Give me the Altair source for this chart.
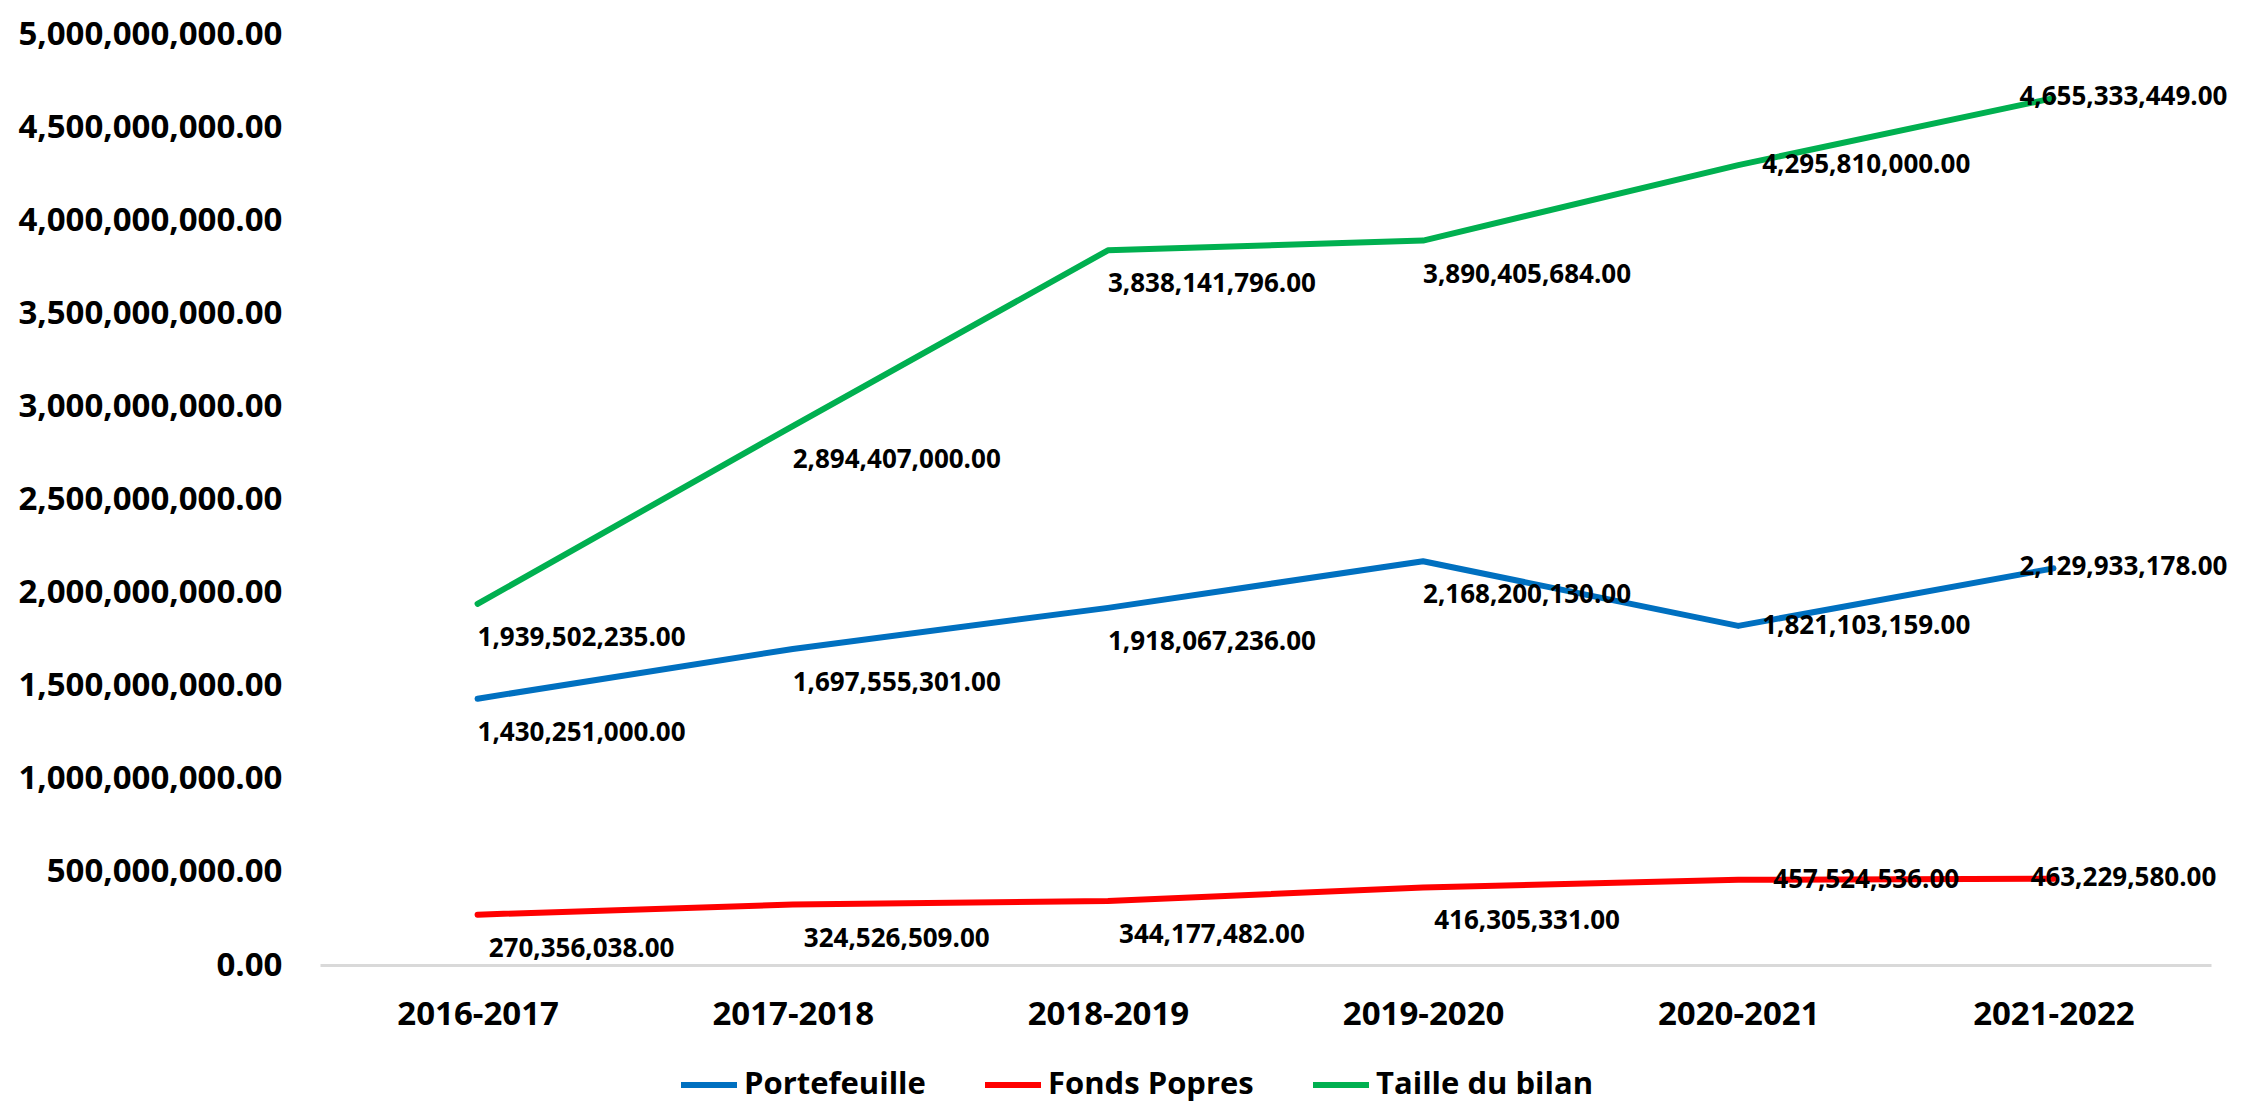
import altair as alt
import pandas as pd

# ---- data ----
years = ["2016-2017", "2017-2018", "2018-2019", "2019-2020", "2020-2021", "2021-2022"]
portefeuille = [1430251000, 1697555301, 1918067236, 2168200130, 1821103159, 2129933178]
fonds_popres = [270356038, 324526509, 344177482, 416305331, 457524536, 463229580]
taille_bilan = [1939502235, 2894407000, 3838141796, 3890405684, 4295810000, 4655333449]
series_names = ["Portefeuille", "Fonds Popres", "Taille du bilan"]
series_colors = ["#0070C0", "#FF0000", "#00B050"]
y_ticks = [0, 500000000, 1000000000, 1500000000, 2000000000, 2500000000,
           3000000000, 3500000000, 4000000000, 4500000000, 5000000000]

rows = []
for name, vals in zip(series_names, [portefeuille, fonds_popres, taille_bilan]):
    for yr, v in zip(years, vals):
        rows.append({"year": yr, "value": v, "series": name})
df = pd.DataFrame(rows)

FONT = "Open Sans"

x_enc = alt.X(
    "year:N", sort=years, title=None,
    scale=alt.Scale(type="point", padding=0.5),
    axis=alt.Axis(labelAngle=0, ticks=False, domainColor="#D9D9D9", domainWidth=3,
                  labelFont=FONT, labelFontSize=33, labelFontWeight="bold",
                  labelColor="#000000", labelPadding=33, grid=False, labelLimit=400),
)
y_enc = alt.Y(
    "value:Q", title=None,
    scale=alt.Scale(domain=[0, 5000000000], nice=False, zero=True),
    axis=alt.Axis(values=y_ticks, format=",.2f", domain=False, ticks=False, grid=False,
                  labelFont=FONT, labelFontSize=33, labelFontWeight="bold",
                  labelColor="#000000", labelPadding=38, labelLimit=400),
)

base = alt.Chart(df).encode(x=x_enc, y=y_enc)

lines = base.mark_line(strokeWidth=6, strokeCap="round", strokeJoin="round").encode(
    color=alt.Color(
        "series:N", sort=series_names,
        scale=alt.Scale(domain=series_names, range=series_colors),
        legend=alt.Legend(
            title=None, orient="none", legendX=358, legendY=1020,
            direction="horizontal", columns=3, symbolType="stroke",
            symbolSize=3136, symbolStrokeWidth=6, labelFont=FONT, labelFontSize=31,
            labelFontWeight="bold", labelColor="#000000", labelOffset=4,
            columnPadding=47, labelLimit=500, padding=0,
        ),
    )
)

def labels(cats, dx, dy):
    return base.mark_text(
        dx=dx, dy=dy, font=FONT, fontSize=26, fontWeight="bold", color="#000000"
    ).encode(
        text=alt.Text("value:Q", format=",.2f")
    ).transform_filter(alt.FieldOneOfPredicate(field="year", oneOf=cats))

chart = alt.layer(
    lines,
    labels(years[:4], 104, 34),
    labels([years[4]], 128, 0),
    labels([years[5]], 70, -1),
).properties(
    width=1891, height=931,
    autosize=alt.AutoSizeParams(type="none"),
    padding={"left": 312, "top": 26, "right": 40, "bottom": 139},
    background="#ffffff",
).configure_view(stroke=None)

chart.save("out.html", embed_options={"renderer": "svg", "actions": False})
